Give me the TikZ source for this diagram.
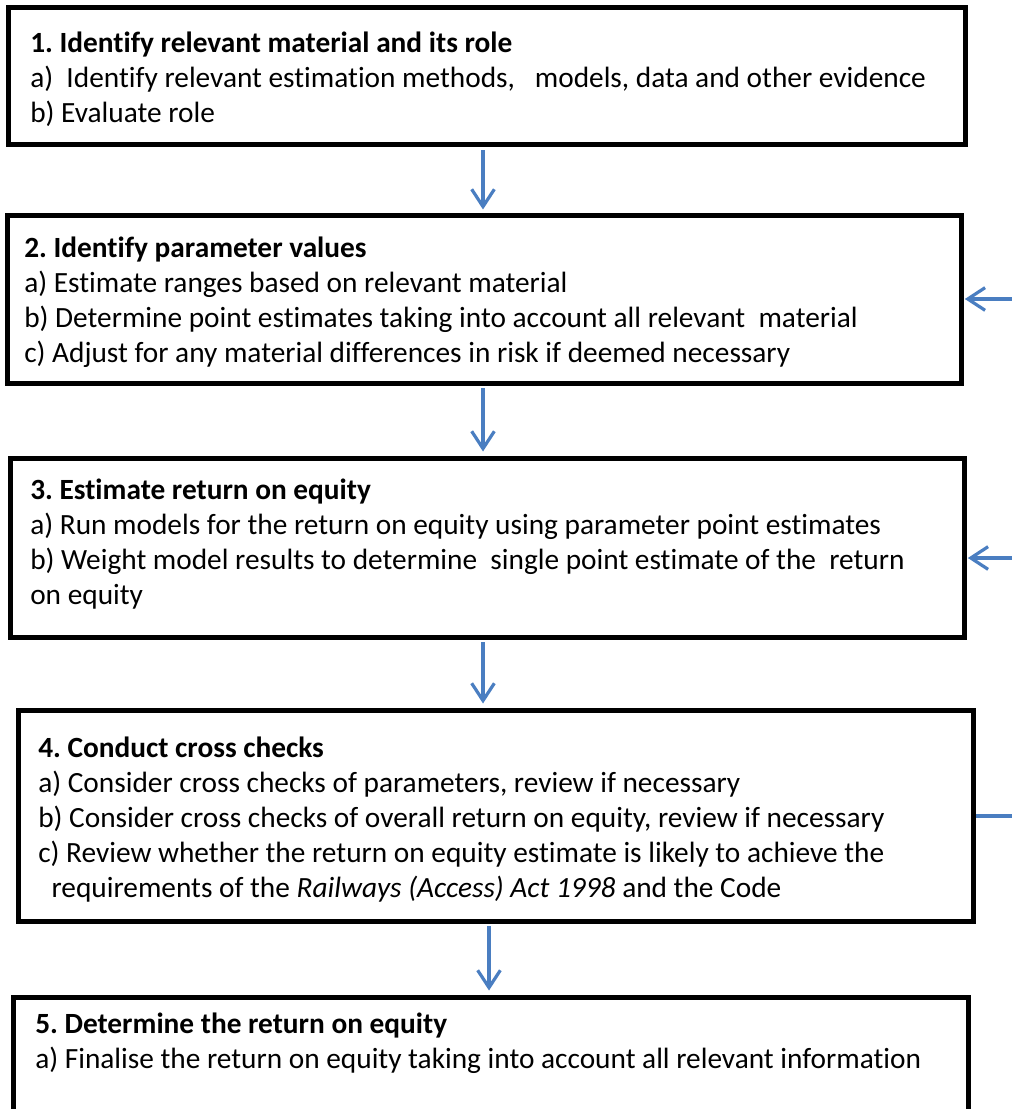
\documentclass[tikz,border=0pt]{standalone}
\usepackage{fontspec}
\setmainfont{Carlito}[Ligatures=NoCommon]
\usetikzlibrary{fit,arrows.meta}
\definecolor{arrowblue}{RGB}{74,126,193}
\frenchspacing
\begin{document}
\begin{tikzpicture}[x=0.75pt,y=-0.75pt,
  box/.style={draw=black, line width=3.75pt, inner sep=0pt},
  txt/.style={anchor=north west, inner sep=0pt, align=left, font=\fontsize{22}{26.25}\selectfont},
  flow/.style={draw=arrowblue, line width=2.4pt, shorten <=2pt, shorten >=3pt,
    -{Straight Barb[length=13pt,width=17pt,line width=2.4pt]}},
  feed/.style={draw=arrowblue, line width=2.4pt}]
\useasboundingbox (0,0) rectangle (1012,1109);
\clip (0,0) rectangle (1012,1109);

% boxes
\node[box, fit={(8,8) (965,145)}] (b1) {};
\node[box, fit={(7,216) (961,383)}] (b2) {};
\node[box, fit={(10,458) (964,637)}] (b3) {};
\node[box, fit={(18,710) (973,921)}] (b4) {};
\node[box, fit={(13,997) (968,1135)}] (b5) {};

% texts
\node[txt] (t1) at (30,32) {\textbf{1. Identify relevant material and its role}\\
a)\ \ Identify relevant estimation methods,\ \ \ models, data and other evidence\\
b) Evaluate role};

\node[txt] (t2) at (24,237) {\textbf{2. Identify parameter values}\\
a) Estimate ranges based on relevant material\\
b) Determine point estimates taking into account all relevant\ \ material\\
c) Adjust for any material differences in risk if deemed necessary};

\node[txt] (t3) at (30,479) {\textbf{3. Estimate return on equity}\\
a) Run models for the return on equity using parameter point estimates\\
b) Weight model results to determine\ \ single point estimate of the\ \ return\\
on equity};

\node[txt] (t4) at (38,737) {\textbf{4. Conduct cross checks}\\
a) Consider cross checks of parameters, review if necessary\\
b) Consider cross checks of overall return on equity, review if necessary\\
c) Review whether the return on equity estimate is likely to achieve the\\
\hspace*{10pt}requirements of the \textit{Railways (Access) Act 1998} and the Code};

\node[txt] (t5) at (35,1013) {\textbf{5. Determine the return on equity}\\
a) Finalise the return on equity taking into account all relevant information};

% downward flow arrows
\draw[flow] (483,0 |- b1.south) -- (483,0 |- b2.north);
\draw[flow] (483,0 |- b2.south) -- (483,0 |- b3.north);
\draw[flow] (483,0 |- b3.south) -- (483,0 |- b4.north);
\draw[flow] (489,0 |- b4.south) -- (489,0 |- b5.north);

% feedback lines from the right
\coordinate (r2) at (1014,299);
\coordinate (r3) at (1014,558);
\coordinate (r4) at (1014,816);
\draw[flow, shorten <=0pt, shorten >=1pt] (r2) -- (b2.east |- r2);
\draw[flow, shorten <=0pt, shorten >=1pt] (r3) -- (b3.east |- r3);
\draw[feed] (r4) -- (b4.east |- r4);
\end{tikzpicture}
\end{document}
